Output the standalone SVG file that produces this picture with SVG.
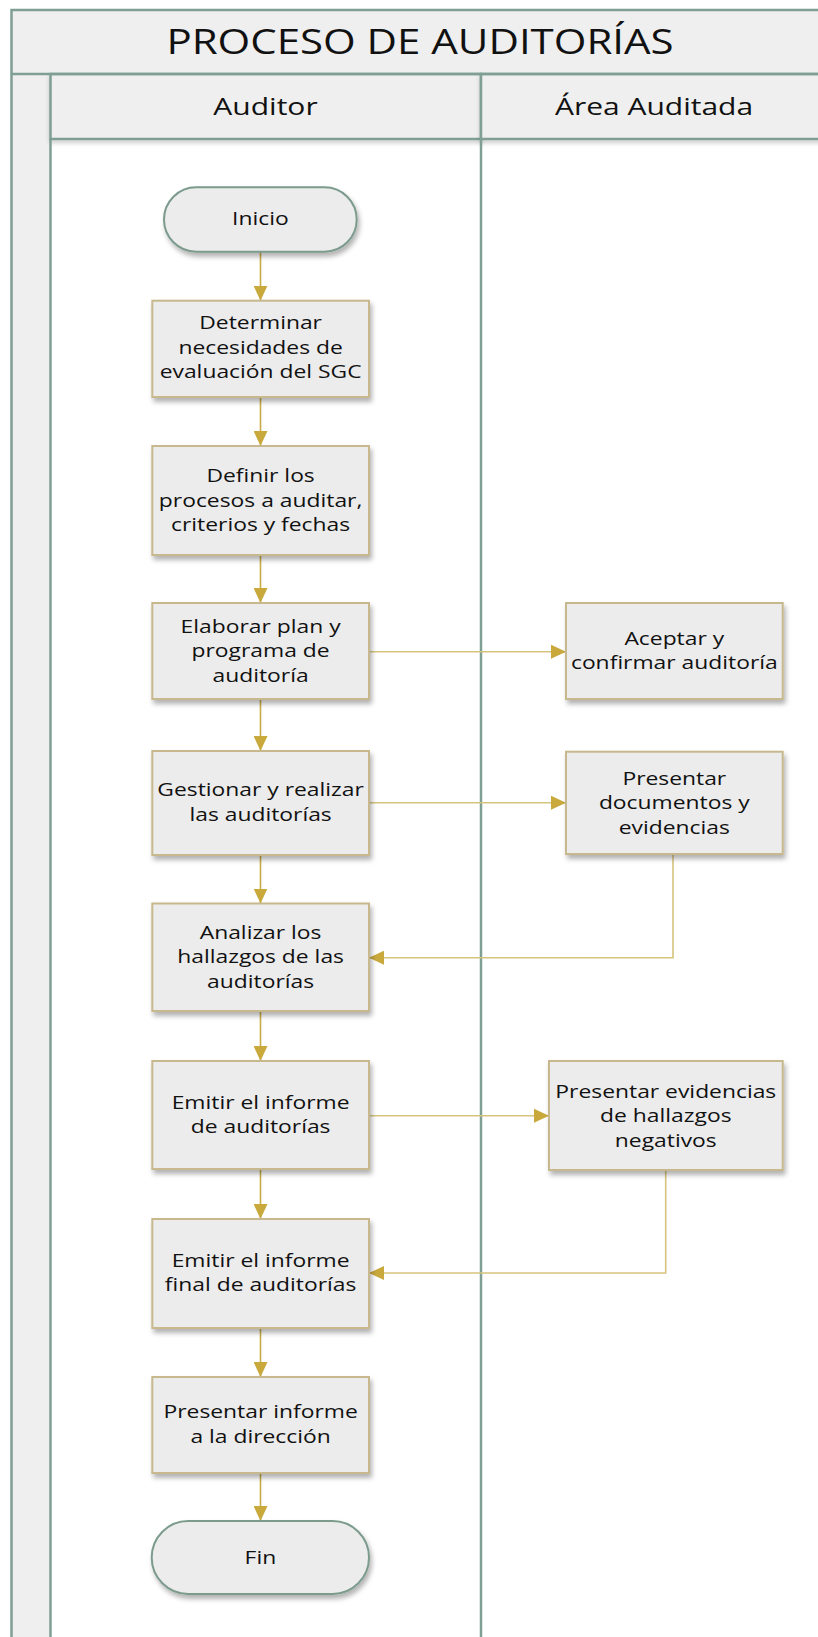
<svg xmlns="http://www.w3.org/2000/svg" width="818" height="1637" viewBox="0 0 818 1637">
<defs>
<style>
.frame{stroke:#7f9f94;stroke-width:2.5;}
.band{fill:#efefef;}
.box{fill:#ececec;stroke:#c7b98d;stroke-width:2;}
.term{fill:#ececec;stroke:#7b9b8d;stroke-width:2;}
.t{font-family:"Open Sans","Noto Sans",sans-serif;font-size:18px;fill:#111;text-anchor:middle;}
.h{font-family:"Open Sans","Noto Sans",sans-serif;font-size:24px;fill:#111;text-anchor:middle;}
.ti{font-family:"Open Sans","Noto Sans",sans-serif;font-size:35px;fill:#111;text-anchor:middle;}
.c{fill:none;stroke:#c9ab45;stroke-width:1.6;}
.ch{fill:none;stroke:#d6c47e;stroke-width:1.6;}
</style>
<marker id="ah" viewBox="0 0 15 14" refX="15" refY="7" markerWidth="15" markerHeight="14" markerUnits="userSpaceOnUse" orient="auto">
<path d="M0,0 L15,7 L0,14 z" fill="#c9a93c"/>
</marker>
<filter id="sh" x="-10%" y="-10%" width="130%" height="140%">
<feDropShadow dx="2" dy="4" stdDeviation="2.5" flood-color="#000" flood-opacity="0.3"/>
</filter>
<filter id="shl" x="-5%" y="-20%" width="110%" height="160%">
<feDropShadow dx="0" dy="3" stdDeviation="2" flood-color="#000" flood-opacity="0.18"/>
</filter>
</defs>

<g id="pool">
<rect x="11.5" y="10" width="830" height="1700" class="band frame"/>
<rect x="50.5" y="139" width="430.5" height="1600" fill="#fff"/>
<rect x="481" y="139" width="400" height="1600" fill="#fff"/>
<rect x="50.5" y="74" width="430.5" height="65" class="band frame" filter="url(#shl)"/>
<rect x="481" y="74" width="400" height="65" class="band frame" filter="url(#shl)"/>
<line x1="50.5" y1="139" x2="50.5" y2="1650" class="frame"/>
<line x1="481" y1="139" x2="481" y2="1650" class="frame"/>
<line x1="11.5" y1="74" x2="818" y2="74" class="frame"/>
<text class="ti" transform="translate(420 0) scale(1.2 1)" x="0" y="54">PROCESO DE AUDITORÍAS</text>
<text class="h" transform="translate(265.5 0) scale(1.25 1)" x="0" y="115">Auditor</text>
<text class="h" transform="translate(654 0) scale(1.25 1)" x="0" y="115">Área Auditada</text>
</g>

<g id="connectors">
<line x1="260.5" y1="251.7" x2="260.5" y2="300.7" class="c" marker-end="url(#ah)"/>
<line x1="260.5" y1="397" x2="260.5" y2="446" class="c" marker-end="url(#ah)"/>
<line x1="260.5" y1="555" x2="260.5" y2="603" class="c" marker-end="url(#ah)"/>
<line x1="260.5" y1="699" x2="260.5" y2="751" class="c" marker-end="url(#ah)"/>
<line x1="260.5" y1="855" x2="260.5" y2="903.5" class="c" marker-end="url(#ah)"/>
<line x1="260.5" y1="1011" x2="260.5" y2="1061" class="c" marker-end="url(#ah)"/>
<line x1="260.5" y1="1169" x2="260.5" y2="1219" class="c" marker-end="url(#ah)"/>
<line x1="260.5" y1="1328" x2="260.5" y2="1377" class="c" marker-end="url(#ah)"/>
<line x1="260.5" y1="1473" x2="260.5" y2="1521" class="c" marker-end="url(#ah)"/>
<line x1="369" y1="651.7" x2="566" y2="651.7" class="ch" marker-end="url(#ah)"/>
<line x1="369" y1="802.7" x2="566" y2="802.7" class="ch" marker-end="url(#ah)"/>
<polyline points="673,854 673,957.7 369,957.7" class="ch" marker-end="url(#ah)"/>
<line x1="369" y1="1115.7" x2="549" y2="1115.7" class="ch" marker-end="url(#ah)"/>
<polyline points="665.7,1170 665.7,1273 369,1273" class="ch" marker-end="url(#ah)"/>
</g>

<g id="inicio">
<rect x="164" y="187.3" width="192.7" height="64.4" rx="32.2" class="term" filter="url(#sh)"/>
<text class="t" transform="translate(260.4 0) scale(1.27 1)" x="0" y="225.5">Inicio</text>
</g>

<g id="determinar">
<rect x="152.3" y="300.7" width="216.7" height="96.3" class="box" filter="url(#sh)"/>
<text class="t" transform="translate(260.6 0) scale(1.27 1)"><tspan x="0" y="329.3">Determinar</tspan><tspan x="0" y="354">necesidades de</tspan><tspan x="0" y="378.5">evaluación del SGC</tspan></text>
</g>

<g id="definir">
<rect x="152.3" y="446" width="216.7" height="109" class="box" filter="url(#sh)"/>
<text class="t" transform="translate(260.6 0) scale(1.27 1)"><tspan x="0" y="482.5">Definir los</tspan><tspan x="0" y="507">procesos a auditar,</tspan><tspan x="0" y="531.5">criterios y fechas</tspan></text>
</g>

<g id="elaborar">
<rect x="152.3" y="603" width="216.7" height="96" class="box" filter="url(#sh)"/>
<text class="t" transform="translate(260.6 0) scale(1.27 1)"><tspan x="0" y="633">Elaborar plan y</tspan><tspan x="0" y="657.5">programa de</tspan><tspan x="0" y="682">auditoría</tspan></text>
</g>

<g id="gestionar">
<rect x="152.3" y="751" width="216.7" height="104" class="box" filter="url(#sh)"/>
<text class="t" transform="translate(260.6 0) scale(1.27 1)"><tspan x="0" y="796.5">Gestionar y realizar</tspan><tspan x="0" y="821">las auditorías</tspan></text>
</g>

<g id="analizar">
<rect x="152.3" y="903.5" width="216.7" height="107.5" class="box" filter="url(#sh)"/>
<text class="t" transform="translate(260.6 0) scale(1.27 1)"><tspan x="0" y="939">Analizar los</tspan><tspan x="0" y="963.5">hallazgos de las</tspan><tspan x="0" y="988">auditorías</tspan></text>
</g>

<g id="emitir">
<rect x="152.3" y="1061" width="216.7" height="108" class="box" filter="url(#sh)"/>
<text class="t" transform="translate(260.6 0) scale(1.27 1)"><tspan x="0" y="1109">Emitir el informe</tspan><tspan x="0" y="1133.5">de auditorías</tspan></text>
</g>

<g id="emitir-final">
<rect x="152.3" y="1219" width="216.7" height="109" class="box" filter="url(#sh)"/>
<text class="t" transform="translate(260.6 0) scale(1.27 1)"><tspan x="0" y="1267">Emitir el informe</tspan><tspan x="0" y="1291.5">final de auditorías</tspan></text>
</g>

<g id="presentar-informe">
<rect x="152.3" y="1377" width="216.7" height="96" class="box" filter="url(#sh)"/>
<text class="t" transform="translate(260.6 0) scale(1.27 1)"><tspan x="0" y="1418.5">Presentar informe</tspan><tspan x="0" y="1443">a la dirección</tspan></text>
</g>

<g id="fin">
<rect x="151.7" y="1521" width="217.3" height="73" rx="36.5" class="term" filter="url(#sh)"/>
<text class="t" transform="translate(260.4 0) scale(1.27 1)" x="0" y="1564">Fin</text>
</g>

<g id="aceptar">
<rect x="566" y="603" width="216.7" height="96" class="box" filter="url(#sh)"/>
<text class="t" transform="translate(674.3 0) scale(1.27 1)"><tspan x="0" y="645">Aceptar y</tspan><tspan x="0" y="669.5">confirmar auditoría</tspan></text>
</g>

<g id="presentar-documentos">
<rect x="566" y="751.7" width="216.7" height="102.3" class="box" filter="url(#sh)"/>
<text class="t" transform="translate(674.3 0) scale(1.27 1)"><tspan x="0" y="785">Presentar</tspan><tspan x="0" y="809.5">documentos y</tspan><tspan x="0" y="834">evidencias</tspan></text>
</g>

<g id="presentar-evidencias">
<rect x="549" y="1061" width="233.7" height="109" class="box" filter="url(#sh)"/>
<text class="t" transform="translate(665.8 0) scale(1.27 1)"><tspan x="0" y="1098">Presentar evidencias</tspan><tspan x="0" y="1122.5">de hallazgos</tspan><tspan x="0" y="1147">negativos</tspan></text>
</g>
</svg>
